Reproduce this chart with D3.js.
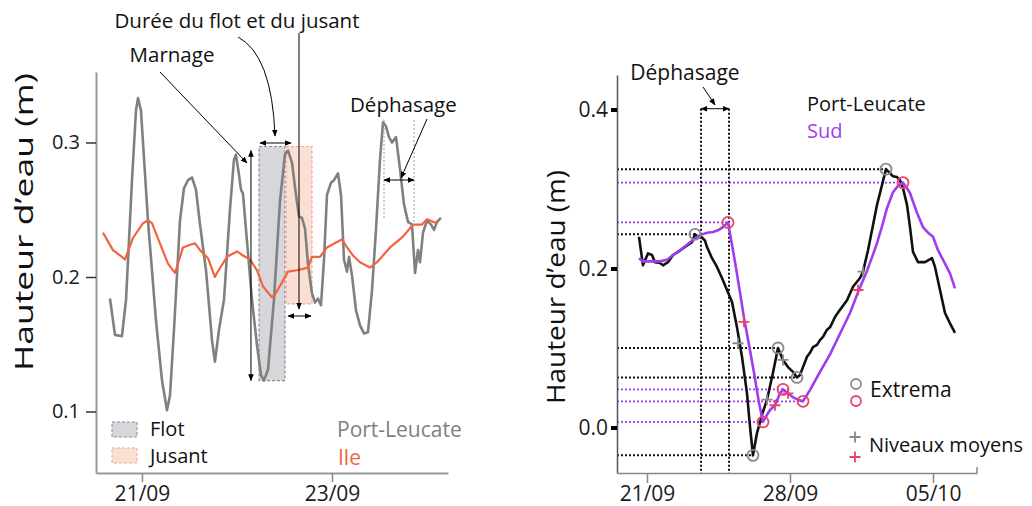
<!DOCTYPE html>
<html><head><meta charset="utf-8">
<script src="https://cdn.jsdelivr.net/npm/d3@7"></script>
<style>
body{margin:0;background:#fff;}
svg{display:block;font-family:"Open Sans",sans-serif;}
</style></head><body>
<svg id="c" width="1032" height="506"></svg>
<script>
// ---------- DATA (time = day of September, decimal; Oct 5 = 35) ----------
// Left panel: hourly water level
const plDayA = [20.663,20.716,20.789,20.832,20.895,20.937,20.958,20.989,21.063,21.147,
21.211,21.263,21.295,21.337,21.400,21.442,21.484,21.526,21.568,21.611,
21.674,21.737,21.768,21.811,21.863,21.926,21.968,21.989,22.021,22.042,
22.063,22.095,22.158,22.211,22.253,22.284,22.326,22.389,22.453,22.505,
22.537,22.579,22.621,22.653,22.684,22.716,22.747,22.789,22.821,22.853,
22.884,22.916,22.947,22.989,23.021,23.063,23.095,23.126,23.158,23.179,
23.211,23.253,23.295,23.337,23.379,23.421,23.463,23.505,23.537,23.568,
23.600,23.632,23.674,23.716,23.758,23.800,23.842,23.874,23.905,23.926,
23.958,24.000,24.042,24.074,24.105,24.147];
const plLevelA = [0.184,0.157,0.156,0.183,0.272,0.324,0.333,0.324,0.242,0.168,
0.123,0.101,0.112,0.161,0.242,0.266,0.272,0.274,0.265,0.239,
0.205,0.153,0.137,0.161,0.183,0.250,0.287,0.291,0.276,0.265,
0.262,0.235,0.183,0.149,0.127,0.123,0.131,0.183,0.257,0.291,
0.294,0.285,0.261,0.245,0.244,0.236,0.210,0.188,0.181,0.184,
0.179,0.213,0.261,0.270,0.272,0.277,0.261,0.213,0.204,0.215,
0.201,0.175,0.164,0.158,0.159,0.190,0.235,0.287,0.315,0.312,
0.304,0.300,0.304,0.280,0.254,0.241,0.239,0.203,0.220,0.211,
0.233,0.242,0.239,0.235,0.241,0.244];
const ileDay = [20.589,20.695,20.789,20.821,20.905,21.011,21.063,21.105,21.189,21.274,
21.347,21.432,21.505,21.558,21.611,21.695,21.768,21.789,21.895,22.000,
22.063,22.137,22.211,22.274,22.368,22.400,22.474,22.537,22.632,22.747,
22.789,22.874,22.947,23.053,23.105,23.158,23.221,23.295,23.400,23.474,
23.611,23.747,23.853,23.947,24.000,24.063,24.116];
const ileLevel = [0.233,0.220,0.215,0.213,0.229,0.240,0.242,0.240,0.225,0.210,
0.203,0.222,0.224,0.225,0.220,0.214,0.200,0.203,0.215,0.219,
0.216,0.213,0.205,0.193,0.185,0.187,0.196,0.204,0.205,0.207,
0.215,0.215,0.222,0.226,0.228,0.222,0.216,0.211,0.207,0.211,
0.222,0.230,0.239,0.239,0.243,0.241,0.240];
// Flot / Jusant windows: [startDay, endDay, low, high]
const flotWin = [22.232, 22.505, 0.123, 0.297];
const jusantWin = [22.516, 22.789, 0.180, 0.297];
const leftYTicks = [0.1, 0.2, 0.3];
const leftXTicks = ["2019-09-21", "2019-09-23"];

// Right panel: filtered water level
const plDayB = [20.608,20.804,21.049,21.245,21.392,21.636,21.783,22.028,22.273,22.517,
22.860,23.203,23.349,23.496,23.692,23.839,23.937,24.182,24.426,24.671,
24.916,25.161,25.405,25.650,25.895,26.042,26.188,26.384,26.629,26.874,
27.167,27.412,27.657,27.902,28.146,28.342,28.489,28.636,28.832,28.978,
29.125,29.321,29.468,29.615,29.811,29.958,30.202,30.447,30.790,31.083,
31.426,31.573,31.818,32.013,32.258,32.503,32.698,32.894,33.041,33.237,
33.384,33.531,33.727,33.873,34.020,34.265,34.608,34.950,35.097,35.342,
35.587,35.831,36.076];
const plLevelB = [0.240,0.204,0.219,0.217,0.208,0.207,0.204,0.208,0.217,0.221,
0.227,0.233,0.243,0.240,0.239,0.235,0.227,0.213,0.202,0.188,
0.173,0.158,0.126,0.089,0.043,0.001,-0.035,-0.007,0.016,0.035,
0.069,0.100,0.085,0.076,0.070,0.063,0.066,0.076,0.089,0.094,
0.101,0.104,0.110,0.114,0.123,0.126,0.139,0.148,0.160,0.177,
0.188,0.196,0.223,0.248,0.280,0.305,0.325,0.320,0.316,0.315,
0.311,0.301,0.280,0.252,0.221,0.208,0.208,0.213,0.202,0.173,
0.144,0.131,0.119];
const sudDay = [20.608,20.804,21.147,21.636,21.979,22.273,22.615,22.958,23.252,23.594,
23.937,24.231,24.475,24.720,24.965,25.161,25.356,25.552,25.748,25.993,
26.238,26.483,26.678,26.874,27.021,27.265,27.510,27.657,27.902,28.146,
28.391,28.636,28.978,29.468,29.958,30.447,30.936,31.328,31.720,32.013,
32.258,32.503,32.748,33.041,33.286,33.531,33.727,33.873,34.216,34.510,
34.755,35.000,35.244,35.489,35.831,36.076];
const sudLevel = [0.213,0.209,0.209,0.209,0.211,0.217,0.223,0.230,0.236,0.242,
0.245,0.246,0.248,0.252,0.258,0.230,0.201,0.170,0.138,0.104,
0.069,0.031,0.007,0.016,0.022,0.028,0.043,0.048,0.043,0.038,
0.035,0.033,0.047,0.070,0.092,0.118,0.144,0.170,0.194,0.214,
0.232,0.253,0.276,0.296,0.304,0.308,0.301,0.295,0.270,0.252,
0.245,0.240,0.223,0.211,0.194,0.175];
const plExtDay = [23.349, 26.188, 27.412, 28.342, 32.698];
const plExtLevel = [0.243, -0.035, 0.100, 0.063, 0.325];
const sudExtDay = [24.965, 26.678, 27.657, 28.636, 33.531];
const sudExtLevel = [0.258, 0.007, 0.048, 0.033, 0.308];
const plMeanDay = [25.454, 26.874, 27.657, 31.573];
const plMeanLevel = [0.106, 0.035, 0.085, 0.196];
const sudMeanDay = [25.748, 27.265, 27.902, 31.328];
const sudMeanLevel = [0.133, 0.028, 0.043, 0.173];
const phaseDays = [23.643, 25.014];
const phaseLevel = 0.401;
const rightYTicks = [0.0, 0.2, 0.4];
const rightXTicks = ["2019-09-21", "2019-09-28", "2019-10-05"];

// ---------- HELPERS ----------
const toDate = d => new Date(Date.UTC(2019, 8, 1) + (d - 1) * 864e5);
const parse = d3.utcParse("%Y-%m-%d");
const fmt = d3.utcFormat("%d/%m");
const zip = (a, b) => a.map((d, i) => [toDate(d), b[i]]);

const C = {gray:"#808080", orange:"#f2643f", purple:"#a03cf0", red:"#e8436a", mark:"#8a8a8a", black:"#111"};
const svg = d3.select("#c");
const defs = svg.append("defs");
defs.append("marker").attr("id","ah").attr("viewBox","0 0 10 10").attr("refX",9).attr("refY",5)
  .attr("markerWidth",7).attr("markerHeight",7).attr("orient","auto-start-reverse")
  .append("path").attr("d","M0,1L10,5L0,9z").attr("fill","#000");

function arrow(g, pts, both, curve) {
  const p = g.append("path")
    .attr("d", curve ? curve : d3.line()(pts))
    .attr("fill","none").attr("stroke","#000").attr("stroke-width",1)
    .attr("marker-end","url(#ah)");
  if (both) p.attr("marker-start","url(#ah)");
  return p;
}

// ---------- LEFT PANEL ----------
const xL = d3.scaleUtc().domain([toDate(20.516), toDate(24.221)]).range([96, 448]);
const yL = d3.scaleLinear().domain([0.0543, 0.3524]).range([473, 72]);
const gL = svg.append("g");

function win(w, fill, stroke) {
  gL.append("rect")
    .attr("x", xL(toDate(w[0]))).attr("y", yL(w[3]))
    .attr("width", xL(toDate(w[1])) - xL(toDate(w[0])))
    .attr("height", yL(w[2]) - yL(w[3]))
    .attr("fill", fill).attr("stroke", stroke).attr("stroke-width", 1.2)
    .attr("stroke-dasharray", "3,2");
}
win(flotWin, "#d7d7db", "#8c8c8c");
win(jusantWin, "#fae0d3", "#f0a3a0");

const lineL = d3.line().x(d => xL(d[0])).y(d => yL(d[1]));
gL.append("path").datum(zip(plDayA, plLevelA)).attr("d", lineL)
  .attr("fill","none").attr("stroke",C.gray).attr("stroke-width",2.6).attr("stroke-linejoin","round");
gL.append("path").datum(zip(ileDay, ileLevel)).attr("d", lineL)
  .attr("fill","none").attr("stroke",C.orange).attr("stroke-width",2.2).attr("stroke-linejoin","round");

const axYL = gL.append("g").attr("transform","translate(96,0)")
  .call(d3.axisLeft(yL).tickValues(leftYTicks).tickSize(10).tickSizeOuter(0).tickPadding(6).tickFormat(d3.format(".1f")));
axYL.select(".domain").attr("stroke","#999").attr("stroke-width",2);
axYL.selectAll(".tick line").attr("stroke","#333").attr("stroke-width",1.5);
axYL.selectAll("text").attr("font-size",20).attr("fill","#1a1a1a").attr("font-family","Open Sans");
const axXL = gL.append("g").attr("transform","translate(0,473)")
  .call(d3.axisBottom(xL).tickValues(leftXTicks.map(parse)).tickSize(9).tickSizeOuter(0).tickPadding(4).tickFormat(fmt));
axXL.select(".domain").attr("stroke","#999").attr("stroke-width",1.8);
axXL.selectAll(".tick line").attr("stroke","#888").attr("stroke-width",1.5);
axXL.selectAll("text").attr("font-size",21).attr("fill","#1a1a1a").attr("font-family","Open Sans");

gL.append("text").attr("transform","translate(33,222) rotate(-90)").attr("text-anchor","middle")
  .attr("font-size",26).attr("fill","#111").attr("textLength",298).attr("lengthAdjust","spacingAndGlyphs")
  .text("Hauteur d’eau (m)");

const tL = (x, y, s) => gL.append("text").attr("x", x).attr("y", y).attr("font-size",20.5).attr("fill","#111").text(s);
tL(237, 28, "Durée du flot et du jusant").attr("text-anchor","middle");
tL(172, 62, "Marnage").attr("text-anchor","middle");
tL(350, 112, "Déphasage");
arrow(gL, [[160,72],[247,163]]);
arrow(gL, [[xL(toDate(22.147)), yL(0.294)], [xL(toDate(22.147)), yL(0.123)]], true);
arrow(gL, null, false, "M238,37 Q272,55 275,136");
arrow(gL, [[260,143],[291,143]], true);
arrow(gL, [[299,33],[299,309]]);
arrow(gL, [[288,316],[311,316]], true);
[[384,120,220],[414,120,222]].forEach(v => gL.append("line").attr("x1",v[0]).attr("x2",v[0]).attr("y1",v[1]).attr("y2",v[2])
  .attr("stroke","#9a9a9a").attr("stroke-width",1).attr("stroke-dasharray","2,2"));
arrow(gL, [[384,180],[414,180]], true);
arrow(gL, [[427,119],[401,178]]);

gL.append("rect").attr("x",112).attr("y",422).attr("width",25).attr("height",15)
  .attr("fill","#d7d7db").attr("stroke","#8c8c8c").attr("stroke-dasharray","3,2");
gL.append("rect").attr("x",112).attr("y",448).attr("width",25).attr("height",15)
  .attr("fill","#fae0d3").attr("stroke","#f0a3a0").attr("stroke-dasharray","3,2");
gL.append("text").attr("x",150).attr("y",436).attr("font-size",20).attr("fill","#111").text("Flot");
gL.append("text").attr("x",150).attr("y",463).attr("font-size",20).attr("fill","#111").text("Jusant");
gL.append("text").attr("x",337).attr("y",437).attr("font-size",21).attr("fill","#7f7f7f").text("Port-Leucate");
gL.append("text").attr("x",338).attr("y",465).attr("font-size",21).attr("fill",C.orange).text("Ile");

// ---------- RIGHT PANEL ----------
const xR = d3.scaleUtc().domain([toDate(19.532), toDate(37.153)]).range([617, 977]);
const yR = d3.scaleLinear().domain([-0.0572, 0.4434]).range([473, 75]);
const gR = svg.append("g");

function hguides(days, levels, color, w) {
  days.forEach((d, i) => gR.append("line")
    .attr("x1", xR.range()[0]).attr("x2", xR(toDate(d)))
    .attr("y1", yR(levels[i])).attr("y2", yR(levels[i]))
    .attr("stroke", color).attr("stroke-width", w).attr("stroke-dasharray", "2,2"));
}
hguides(plExtDay, plExtLevel, "#111", 2);
hguides(sudExtDay, sudExtLevel, C.purple, 1.8);
phaseDays.forEach(d => gR.append("line").attr("x1", xR(toDate(d))).attr("x2", xR(toDate(d)))
  .attr("y1", yR(phaseLevel)).attr("y2", yR.range()[0])
  .attr("stroke","#111").attr("stroke-width",2).attr("stroke-dasharray","2,2"));
arrow(gR, [[xR(toDate(phaseDays[0])), yR(phaseLevel)], [xR(toDate(phaseDays[1])), yR(phaseLevel)]], true);
gR.append("text").attr("x",685).attr("y",80).attr("text-anchor","middle").attr("font-size",21).attr("fill","#111").text("Déphasage");
arrow(gR, [[703,87],[715,105]]);

const lineR = d3.line().x(d => xR(d[0])).y(d => yR(d[1]));
gR.append("path").datum(zip(plDayB, plLevelB)).attr("d", lineR)
  .attr("fill","none").attr("stroke",C.black).attr("stroke-width",2.6).attr("stroke-linejoin","round");
gR.append("path").datum(zip(sudDay, sudLevel)).attr("d", lineR)
  .attr("fill","none").attr("stroke",C.purple).attr("stroke-width",2.6).attr("stroke-linejoin","round");

function circles(days, levels, color) {
  gR.selectAll(null).data(zip(days, levels)).join("circle")
    .attr("cx", d => xR(d[0])).attr("cy", d => yR(d[1])).attr("r", 5.5)
    .attr("fill","none").attr("stroke", color).attr("stroke-width", 1.8);
}
function pluses(days, levels, color) {
  gR.selectAll(null).data(zip(days, levels)).join("path")
    .attr("transform", d => `translate(${xR(d[0])},${yR(d[1])})`)
    .attr("d","M-5.5,0H5.5M0,-5.5V5.5").attr("stroke", color).attr("stroke-width", 1.8);
}
circles(plExtDay, plExtLevel, C.mark);
circles(sudExtDay, sudExtLevel, C.red);
pluses(plMeanDay, plMeanLevel, C.mark);
pluses(sudMeanDay, sudMeanLevel, C.red);

const axYR = gR.append("g").attr("transform","translate(617,0)")
  .call(d3.axisLeft(yR).tickValues(rightYTicks).tickSize(6).tickSizeOuter(0).tickPadding(3).tickFormat(d3.format(".1f")));
axYR.select(".domain").attr("stroke","#555").attr("stroke-width",1.5);
axYR.selectAll(".tick line").attr("stroke","#000").attr("stroke-width",4);
axYR.selectAll("text").attr("font-size",21).attr("fill","#1a1a1a").attr("font-family","Open Sans");
const axXR = gR.append("g").attr("transform","translate(0,473)")
  .call(d3.axisBottom(xR).tickValues(rightXTicks.map(parse)).tickSize(10).tickSizeOuter(0).tickPadding(3).tickFormat(fmt));
axXR.select(".domain").attr("stroke","#888").attr("stroke-width",1.5);
axXR.selectAll(".tick line").attr("stroke","#888").attr("stroke-width",1.5);
axXR.selectAll("text").attr("font-size",21).attr("fill","#1a1a1a").attr("font-family","Open Sans");
gR.append("line").attr("x1",977).attr("x2",977).attr("y1",467).attr("y2",473).attr("stroke","#888").attr("stroke-width",1.5);

gR.append("text").attr("transform","translate(565,287) rotate(-90)").attr("text-anchor","middle")
  .attr("font-size",26).attr("fill","#111").attr("textLength",234).attr("lengthAdjust","spacingAndGlyphs")
  .text("Hauteur d’eau (m)");

gR.append("text").attr("x",807).attr("y",111).attr("font-size",20).attr("fill","#111").text("Port-Leucate");
gR.append("text").attr("x",807).attr("y",138).attr("font-size",20).attr("fill",C.purple).text("Sud");
gR.append("circle").attr("cx",856).attr("cy",384).attr("r",5).attr("fill","none").attr("stroke",C.mark).attr("stroke-width",1.8);
gR.append("circle").attr("cx",856).attr("cy",401).attr("r",5).attr("fill","none").attr("stroke",C.red).attr("stroke-width",1.8);
gR.append("path").attr("transform","translate(855,437)").attr("d","M-5.5,0H5.5M0,-5.5V5.5").attr("stroke",C.mark).attr("stroke-width",1.8);
gR.append("path").attr("transform","translate(855,457)").attr("d","M-5.5,0H5.5M0,-5.5V5.5").attr("stroke",C.red).attr("stroke-width",1.8);
gR.append("text").attr("x",870).attr("y",397).attr("font-size",21).attr("fill","#111").text("Extrema");
gR.append("text").attr("x",869).attr("y",452).attr("font-size",20).attr("fill","#111").text("Niveaux moyens");
</script>
</body></html>
